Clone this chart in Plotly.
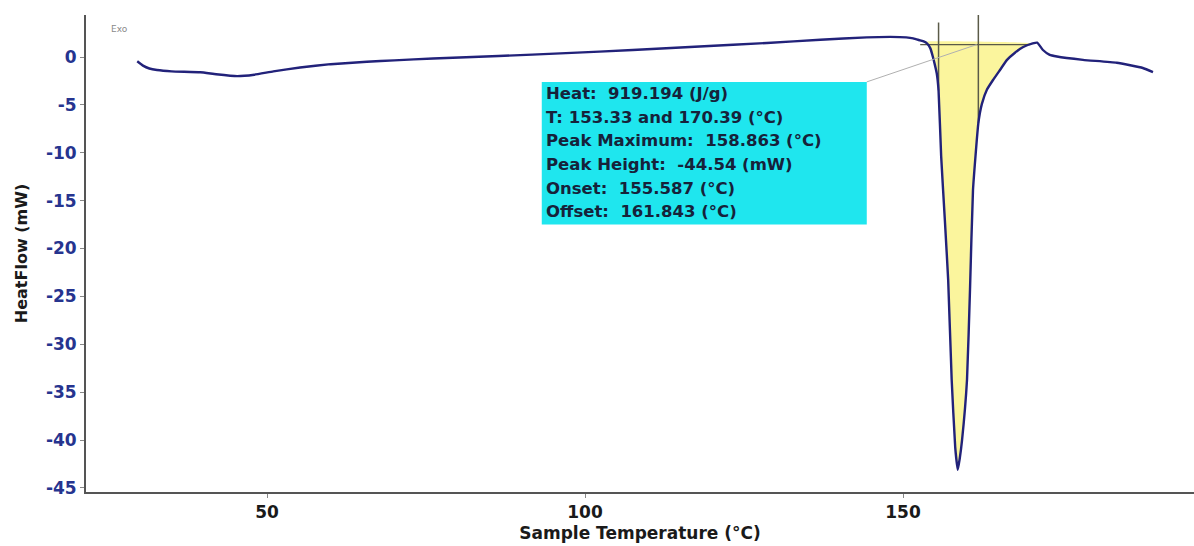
import plotly.graph_objects as go

# DSC heat-flow trace: sample temperature (°C) vs heat flow (mW)
temperature = [29.6, 30.5, 31.5, 32.7, 35.0, 39.5, 42.0, 45.3, 48.0, 51.0, 55.2, 60.0,
               65.7, 70.0, 76.1, 86.4, 97.0, 107.5, 118.0, 128.6, 137.0, 144.3, 148.0,
               150.5, 151.6, 152.6, 153.33, 153.8, 154.3, 154.7, 155.0, 155.3, 155.587,
               156.0, 156.6, 157.1, 157.65, 158.2, 158.6, 158.9, 159.28, 160.06, 160.53,
               161.0, 161.843, 162.4, 163.2, 164.15, 165.3, 166.35, 167.6, 168.9, 170.39,
               171.1, 172.0, 173.0, 174.2, 178.3, 183.6, 187.7, 189.3]
heat_flow = [-0.45, -0.9, -1.2, -1.36, -1.5, -1.6, -1.8, -2.0, -1.85, -1.5, -1.1, -0.75,
             -0.5, -0.35, -0.15, 0.1, 0.4, 0.73, 1.1, 1.46, 1.8, 2.05, 2.1,
             2.05, 1.95, 1.75, 1.6, 1.4, 0.9, 0.0, -0.8, -1.7, -3.5,
             -10.4, -17.3, -23.3, -33.7, -40.7, -43.1, -42.0, -40.0, -33.7, -24.3,
             -13.9, -6.9, -4.9, -3.4, -2.4, -1.3, -0.3, 0.45, 1.04, 1.42,
             1.5, 0.73, 0.25, 0.05, -0.3, -0.6, -1.15, -1.57]

# Peak integration limits and construction values
limit_low, limit_high = 153.33, 170.39
onset, offset = 155.587, 161.843
construction_level = 1.3

x_ticks = [50, 100, 150]
y_ticks = [0, -5, -10, -15, -20, -25, -30, -35, -40, -45]
y_tick_labels = ["0", "-5", "-10", "-15", "-20", "-25", "-30", "-35", "-40", "-45"]

result_lines = [
    "Heat:  919.194 (J/g)",
    "T: 153.33 and 170.39 (°C)",
    "Peak Maximum:  158.863 (°C)",
    "Peak Height:  -44.54 (mW)",
    "Onset:  155.587 (°C)",
    "Offset:  161.843 (°C)",
]

FONT = "DejaVu Sans"
CURVE = "#22227a"
GUIDE = "#5a5a48"

fig = go.Figure()

# integrated peak area, closed by the straight baseline between the limits
seg_x = [t for t in temperature if limit_low <= t <= limit_high]
seg_y = [h for t, h in zip(temperature, heat_flow) if limit_low <= t <= limit_high]
fig.add_trace(go.Scatter(
    x=seg_x + [seg_x[0]], y=seg_y + [seg_y[0]],
    mode="lines", fill="toself", fillcolor="rgba(250,243,140,0.85)",
    line=dict(width=0, shape="spline", smoothing=0.4), hoverinfo="skip", showlegend=False,
))

# onset / offset construction lines
def curve_at(t):
    for (x0, y0), (x1, y1) in zip(zip(temperature, heat_flow), zip(temperature[1:], heat_flow[1:])):
        if x0 <= t <= x1:
            return y0 + (y1 - y0) * (t - x0) / (x1 - x0)
    return heat_flow[-1]

fig.add_trace(go.Scatter(x=[152.7, 170.0], y=[construction_level, construction_level],
                         mode="lines", line=dict(color=GUIDE, width=1.2),
                         hoverinfo="skip", showlegend=False))
fig.add_trace(go.Scatter(x=[onset, onset], y=[3.6, curve_at(onset)],
                         mode="lines", line=dict(color=GUIDE, width=1.5),
                         hoverinfo="skip", showlegend=False))
fig.add_trace(go.Scatter(x=[offset, offset], y=[4.4, curve_at(offset)],
                         mode="lines", line=dict(color=GUIDE, width=1.5),
                         hoverinfo="skip", showlegend=False))

# heat-flow curve
fig.add_trace(go.Scatter(x=temperature, y=heat_flow, mode="lines",
                         line=dict(color=CURVE, width=2.4, shape="spline", smoothing=0.4),
                         showlegend=False))

# results box with leader line
box_x0, box_x1, box_y0, box_y1 = 93.2, 144.3, -17.5, -2.6
fig.add_shape(type="line", x0=box_x1, y0=box_y1, x1=161.6, y1=construction_level,
              line=dict(color="#b0b0b0", width=1))
fig.add_shape(type="rect", x0=box_x0, x1=box_x1, y0=box_y0, y1=box_y1,
              fillcolor="#1fe6ee", line=dict(width=0), layer="above")
line_step = 2.47
for i, txt in enumerate(result_lines):
    fig.add_annotation(x=box_x0 + 0.4, y=-3.8 - i * line_step, xref="x", yref="y",
                       text="<b>" + txt + "</b>", showarrow=False,
                       xanchor="left", yanchor="middle",
                       font=dict(family=FONT, size=16.5, color="#16223a"))

# small "Exo" direction marker
fig.add_annotation(x=0.021, y=0.985, xref="paper", yref="paper", text="Exo",
                   showarrow=False, xanchor="left", yanchor="top",
                   font=dict(family=FONT, size=9, color="#8a8a8a"))

fig.update_layout(
    width=1194, height=546,
    margin=dict(l=86, r=0, t=15, b=54),
    paper_bgcolor="white", plot_bgcolor="white",
    font=dict(family=FONT, size=16),
    xaxis=dict(
        range=[21.54, 195.75], tickvals=x_ticks, ticks="outside", ticklen=4,
        tickcolor="#888", tickwidth=1, showgrid=False, zeroline=False,
        showline=True, linecolor="#555", linewidth=2,
        tickfont=dict(family=FONT, size=17, color="#1a1a1a", weight="bold"),
        title=dict(text="<b>Sample Temperature (°C)</b>", standoff=6,
                   font=dict(family=FONT, size=17, color="#1a1a1a")),
    ),
    yaxis=dict(
        range=[-45.42, 4.385], tickvals=y_ticks, ticktext=y_tick_labels,
        ticks="outside", ticklen=4,
        tickcolor="#888", tickwidth=1, showgrid=False, zeroline=False,
        showline=True, linecolor="#555", linewidth=2,
        tickfont=dict(family=FONT, size=17, color="#26348f", weight="bold"),
        title=dict(text="<b>HeatFlow (mW)</b>", standoff=14,
                   font=dict(family=FONT, size=16, color="#1a1a1a")),
    ),
)

fig.write_html("out.html")
